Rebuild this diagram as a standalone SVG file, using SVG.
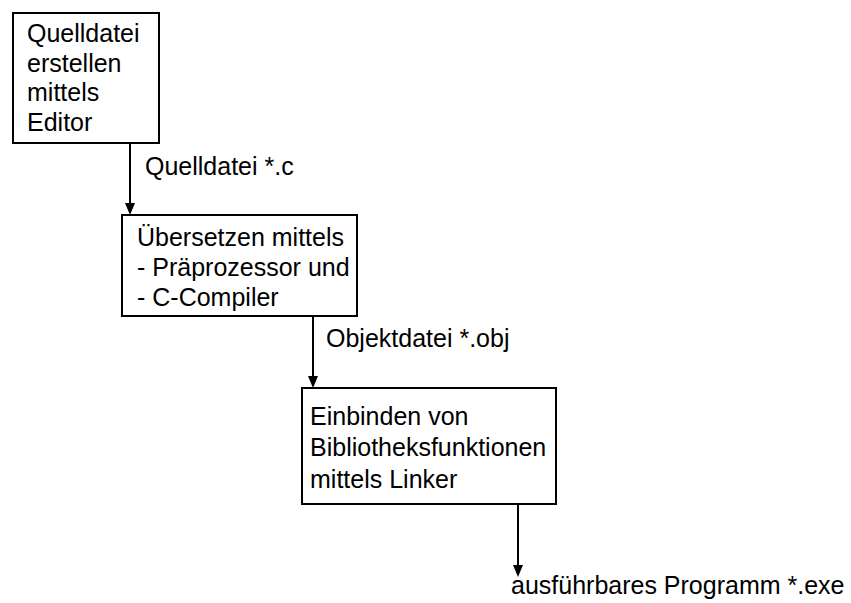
<svg xmlns="http://www.w3.org/2000/svg" width="851" height="603" viewBox="0 0 851 603">
<defs>
<style>
.box{fill:#fff;stroke:#000;stroke-width:2}
.t{font-family:"Liberation Sans",Arial,sans-serif;font-size:25px;fill:#000}
.c{stroke:#000;stroke-width:2;fill:none}
.ah{fill:#000}
</style>
</defs>
<rect width="851" height="603" fill="#fff"/>
<g id="connectors">
<line class="c" x1="130" y1="143" x2="130" y2="205"/>
<path class="ah" d="M125,203 L135,203 L130,215 Z"/>
<line class="c" x1="313" y1="316" x2="313" y2="378"/>
<path class="ah" d="M308,376 L318,376 L313,388 Z"/>
<line class="c" x1="518" y1="504" x2="518" y2="567"/>
<path class="ah" d="M513,565 L523,565 L518,577 Z"/>
<text class="t" x="145" y="175">Quelldatei *.c</text>
<text class="t" x="326" y="347">Objektdatei *.obj</text>
<text class="t" x="511" y="594">ausführbares Programm *.exe</text>
</g>
<g id="n1">
<rect class="box" x="13" y="13" width="146" height="130"/>
<text class="t" x="27" y="42">Quelldatei</text>
<text class="t" x="27" y="72">erstellen</text>
<text class="t" x="27" y="101">mittels</text>
<text class="t" x="27" y="131">Editor</text>
</g>
<g id="n2">
<rect class="box" x="122" y="215" width="235" height="101"/>
<text class="t" x="137" y="246">Übersetzen mittels</text>
<text class="t" x="137" y="276">- Präprozessor und</text>
<text class="t" x="137" y="306">- C-Compiler</text>
</g>
<g id="n3">
<rect class="box" x="302" y="388" width="254" height="116"/>
<text class="t" x="310" y="425">Einbinden von</text>
<text class="t" x="310" y="456">Bibliotheksfunktionen</text>
<text class="t" x="310" y="488">mittels Linker</text>
</g>
</svg>
